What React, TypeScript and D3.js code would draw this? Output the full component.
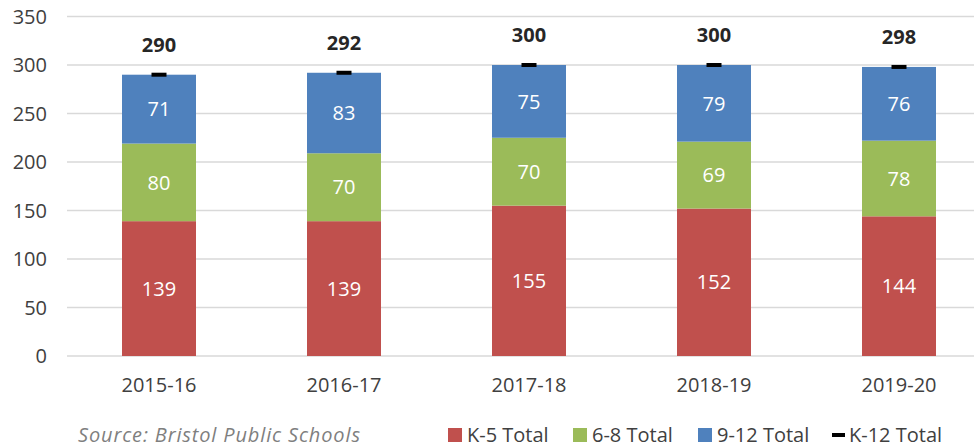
import React from "react";
import * as d3 from "d3";

const years = ["2015-16", "2016-17", "2017-18", "2018-19", "2019-20"];
const k5 = [139, 139, 155, 152, 144];
const g68 = [80, 70, 70, 69, 78];
const g912 = [71, 83, 75, 79, 76];
const k12 = [290, 292, 300, 300, 298];
const yTicks = [0, 50, 100, 150, 200, 250, 300, 350];

const seriesNames = ["K-5 Total", "6-8 Total", "9-12 Total"];
const colours = ["#C0504D", "#9BBB59", "#4F81BD"];

const W = 974;
const H = 448;
const font = "'Open Sans', 'Noto Sans', sans-serif";

export default function App() {
  const x = d3.scaleBand().domain(years).range([66.5, 991.5]).paddingInner(0.6).paddingOuter(0.3);
  const y = d3.scaleLinear().domain([0, 350]).range([356, 16.5]);

  const rows = years.map((yr, i) => ({ year: yr, k5: k5[i], g68: g68[i], g912: g912[i] }));
  const stack = d3.stack<any>().keys(["k5", "g68", "g912"])(rows);

  const legendX = [448, 573, 698];

  return (
    <svg width={W} height={H} style={{ position: "absolute", left: 0, top: 0 }} fontFamily={font}>
      {yTicks.map((t) => (
        <g key={t}>
          <line x1={67} x2={W} y1={y(t)} y2={y(t)} stroke="#D9D9D9" strokeWidth={1.5} />
          <text x={47} y={y(t)} dy="0.36em" textAnchor="end" fontSize={20} fill="#404040">
            {t}
          </text>
        </g>
      ))}

      {stack.map((s, si) => (
        <g key={si}>
          {s.map((d, i) => (
            <g key={i}>
              <rect
                x={x(years[i])}
                width={x.bandwidth()}
                y={y(d[1])}
                height={y(d[0]) - y(d[1])}
                fill={colours[si]}
              />
              <text
                x={(x(years[i]) as number) + x.bandwidth() / 2}
                y={(y(d[0]) + y(d[1])) / 2}
                dy="0.36em"
                textAnchor="middle"
                fontSize={20}
                fill="#FFFFFF"
              >
                {d[1] - d[0]}
              </text>
            </g>
          ))}
        </g>
      ))}

      {k12.map((v, i) => {
        const cx = (x(years[i]) as number) + x.bandwidth() / 2;
        return (
          <g key={i}>
            <rect x={cx - 7.5} y={y(v) - 2} width={15} height={4} fill="#000000" />
            <text x={cx} y={y(v) - 23} textAnchor="middle" fontSize={20} fontWeight="bold" fill="#262626">
              {v}
            </text>
          </g>
        );
      })}

      {years.map((yr) => (
        <text
          key={yr}
          x={(x(yr) as number) + x.bandwidth() / 2}
          y={392}
          textAnchor="middle"
          fontSize={20}
          fill="#404040"
        >
          {yr}
        </text>
      ))}

      <text x={78} y={442} fontSize={20} fontStyle="italic" fill="#7F7F7F" textLength={282} lengthAdjust="spacing">
        Source: Bristol Public Schools
      </text>

      {seriesNames.map((n, i) => (
        <g key={n}>
          <rect x={legendX[i]} y={428} width={14} height={14} fill={colours[i]} />
          <text x={legendX[i] + 19} y={442} fontSize={20} fill="#404040">
            {n}
          </text>
        </g>
      ))}
      <rect x={832} y={433} width={13} height={4} fill="#000000" />
      <text x={849} y={442} fontSize={20} fill="#404040">
        K-12 Total
      </text>
    </svg>
  );
}
